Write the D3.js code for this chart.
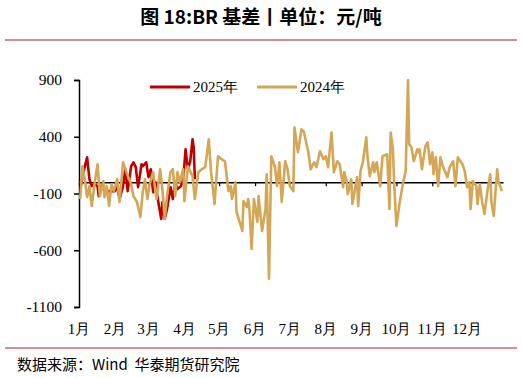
<!DOCTYPE html>
<html>
<head>
<meta charset="utf-8">
<script src="https://cdn.jsdelivr.net/npm/d3@7"></script>
<style>
  body { margin: 0; background: #fff; }
  svg { display: block; }
</style>
</head>
<body>
<div id="chart"></div>
<script>
// data: day of year (0 = 1月1日) and basis, 元/吨
var days2024 = [1,3,5,7,9,11,14,16,18,21,22,24,26,28,30,33,35,38,41,45,47,50,53,55,57,59,61,64,66,67,70,72,74,76,79,81,83,85,87,90,91,94,98,100,103,106,109,112,114,117,120,123,126,129,131,132,135,136,141,142,145,146,147,149,151,154,155,158,161,162,164,166,169,171,173,175,178,180,182,185,186,189,192,194,198,200,203,205,208,211,213,215,218,220,223,225,228,229,231,232,235,236,240,241,243,245,248,249,251,254,255,257,260,262,266,268,269,271,272,274,277,280,282,284,285,287,289,292,293,294,296,299,301,303,305,306,308,310,312,314,318,320,323,325,327,331,333,335,337,338,340,343,344,346,348,350,353,355,356,358,361,362,365];
var basis2024 = [-149,140,26,-132,-35,-210,26,158,-123,9,-132,-35,-210,-18,-79,26,-175,175,88,-18,-123,-175,-307,-88,26,-149,-18,88,-88,-149,114,-61,-324,-123,88,114,-123,88,0,114,-167,140,53,-149,88,114,132,377,88,-193,228,202,184,-79,-35,-149,0,-263,-430,-167,-219,-149,-219,-588,-149,-351,-123,-430,-237,70,-851,228,140,-35,175,-175,184,114,-35,-79,482,263,465,447,263,114,175,132,272,202,228,132,438,88,184,158,-44,88,9,-105,26,-193,44,-210,96,175,395,228,53,175,88,175,-35,228,246,-237,438,289,0,-386,-167,9,96,900,333,307,184,289,263,289,114,316,351,158,263,70,219,-35,219,140,44,132,184,-35,219,158,96,-44,0,-237,9,-35,-193,-18,-175,-281,-44,70,-175,-298,114,9,-79];

var days2025 = [1,2,3,7,9,11,13,16,17,20,21,23,25,28,31,33,35,38,40,42,45,47,49,51,54,55,58,60,62,64,66,68,71,72,74,76,79,81,83,85,88,90,92,94,96,98,99,100];
var basis2025 = [9,-18,53,219,26,-35,-18,-35,-123,-18,-61,-105,-79,-79,-79,-35,-149,-35,114,-79,140,175,132,-44,158,140,175,44,114,-88,0,-149,-324,-175,-324,-237,-44,-149,0,-61,-35,26,289,114,184,377,307,26];

var monthStarts = [0,31,60,91,121,152,182,213,244,274,305,335];
var monthLabels = ["1月","2月","3月","4月","5月","6月","7月","8月","9月","10月","11月","12月"];
var yTicks = [900,400,-100,-600,-1100];
var seriesNames = ["2025年","2024年"];
var seriesColors = ["#C00000","#D4A655"];

var W = 522, H = 378;
var serif = "'Liberation Serif','Times New Roman',serif";
var cjk = "'Noto Sans CJK SC','Noto Sans',sans-serif";

var svg = d3.select("#chart").append("svg")
    .attr("width", W)
    .attr("height", H);

// title and the two red rules
svg.append("text")
    .attr("x", 261)
    .attr("y", 24)
    .attr("text-anchor", "middle")
    .style("font-family", cjk)
    .style("font-weight", "bold")
    .style("font-size", "19px")
    .text("图 18:BR 基差丨单位：元/吨");

svg.append("line")
    .attr("x1", 5).attr("x2", 517)
    .attr("y1", 40).attr("y2", 40)
    .attr("stroke", "#C9676A")
    .attr("stroke-width", 1.5);

svg.append("line")
    .attr("x1", 5).attr("x2", 517)
    .attr("y1", 348).attr("y2", 348)
    .attr("stroke", "#C9676A")
    .attr("stroke-width", 1.5);

svg.append("text")
    .attr("x", 17)
    .attr("y", 370)
    .style("font-family", cjk)
    .style("font-size", "15px")
    .style("white-space", "pre")
    .text("数据来源：Wind  华泰期货研究院");

// scales
var x = d3.scaleLinear().domain([0, 366]).range([79, 503]);
var y = d3.scaleLinear().domain([-1100, 900]).range([307, 80]);

// y axis
var yAxis = svg.append("g")
    .attr("transform", "translate(79,0)")
    .call(d3.axisLeft(y).tickValues(yTicks).tickSize(5).tickPadding(12).tickFormat(function (d) { return String(d); }));
yAxis.select(".domain").attr("stroke", "#000").attr("stroke-width", 1.5);
yAxis.selectAll(".tick line").attr("stroke-width", 1.5);
yAxis.selectAll("text")
    .style("font-family", serif)
    .style("font-size", "15.5px")
    .attr("fill", "#000");

// x axis sits on zero
var xAxis = svg.append("g")
    .attr("transform", "translate(0," + y(0) + ")")
    .call(d3.axisBottom(x).tickValues(monthStarts).tickSize(4).tickFormat("").tickSizeOuter(0));
xAxis.select(".domain").attr("stroke-width", 1.5);
xAxis.selectAll(".tick line").attr("stroke-width", 1.2);

svg.append("g").selectAll("text")
    .data(monthLabels)
    .enter().append("text")
    .attr("x", function (d, i) { return x(monthStarts[i]); })
    .attr("y", 334)
    .attr("text-anchor", "middle")
    .style("font-family", serif)
    .style("font-size", "15px")
    .text(function (d) { return d; });

// lines
var line = d3.line()
    .x(function (d) { return x(d[0]); })
    .y(function (d) { return y(d[1]); });

var s2025 = d3.zip(days2025, basis2025);
var s2024 = d3.zip(days2024, basis2024);

svg.append("path")
    .datum(s2025)
    .attr("fill", "none")
    .attr("stroke", seriesColors[0])
    .attr("stroke-width", 2.6)
    .attr("stroke-linejoin", "round")
    .attr("d", line);

svg.append("path")
    .datum(s2024)
    .attr("fill", "none")
    .attr("stroke", seriesColors[1])
    .attr("stroke-width", 2.6)
    .attr("stroke-linejoin", "round")
    .attr("d", line);

// legend
var legendX = [150, 257];
var legend = svg.append("g").selectAll("g")
    .data(seriesNames)
    .enter().append("g")
    .attr("transform", function (d, i) { return "translate(" + legendX[i] + ",87)"; });

legend.append("line")
    .attr("x1", 0).attr("x2", 40)
    .attr("stroke", function (d, i) { return seriesColors[i]; })
    .attr("stroke-width", 3);

legend.append("text")
    .attr("x", 43)
    .attr("y", 5)
    .style("font-family", serif)
    .style("font-size", "15px")
    .text(function (d) { return d; });
</script>
</body>
</html>
